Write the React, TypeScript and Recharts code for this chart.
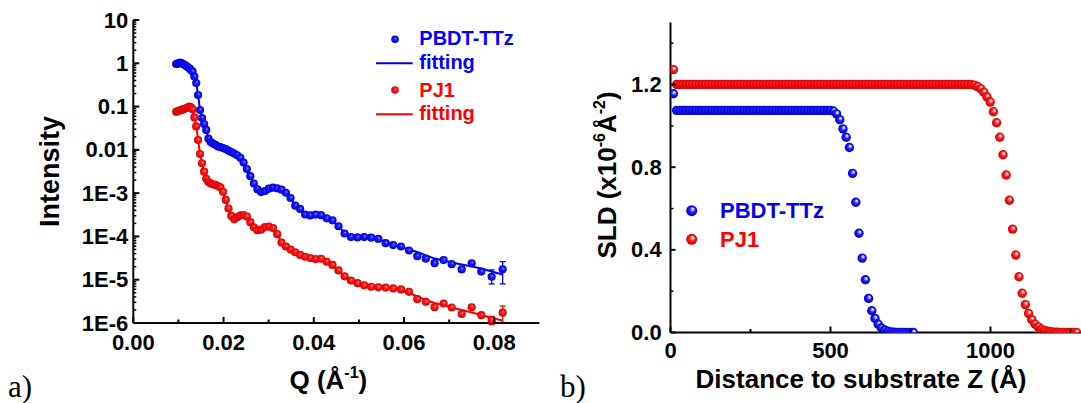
import React from 'react';
import { ComposedChart, ScatterChart, Scatter, Line, XAxis, YAxis, ErrorBar, Legend } from 'recharts';

const FONT = '"Liberation Sans", Arial, Helvetica, sans-serif';
const SERIF = '"Liberation Serif", "Times New Roman", serif';
const BLUE = '#0000ff';
const RED = '#ff0000';

// ---------------- Panel a: reflectivity ----------------
const qValues = [
  0.0095, 0.00979, 0.01008, 0.01038, 0.01069, 0.01101, 0.01134, 0.01168, 0.01203, 0.01239,
  0.01276, 0.01314, 0.01353, 0.01394, 0.01436, 0.01479, 0.01523, 0.01569, 0.01616, 0.01665,
  0.01715, 0.01766, 0.01819, 0.01874, 0.0193, 0.01988, 0.02048, 0.02109, 0.02172, 0.02237,
  0.02304, 0.02373, 0.02444, 0.02517, 0.02593, 0.02671, 0.02751, 0.02834, 0.02919, 0.03006,
  0.03096, 0.03189, 0.03285, 0.03383, 0.03485, 0.03589, 0.03697, 0.03808, 0.03922, 0.0404,
  0.04161, 0.04286, 0.04414, 0.04547, 0.04683, 0.04824, 0.04968, 0.05117, 0.05271, 0.05429,
  0.05592, 0.0576, 0.05932, 0.0611, 0.06294, 0.06483, 0.06677, 0.06877, 0.07056, 0.07278,
  0.07499, 0.07712, 0.07942, 0.08186,
];

const pbdtIntensity = [
  0.963, 0.978, 1.0, 1.032, 1.005, 0.963, 0.923, 0.875, 0.821, 0.77,
  0.704, 0.643, 0.495, 0.35, 0.185, 0.0834, 0.0545, 0.0396, 0.0288, 0.0181,
  0.0152, 0.014, 0.0131, 0.012, 0.0116, 0.011, 0.0104, 0.00957, 0.00888, 0.0082,
  0.0075, 0.00653, 0.00508, 0.0036, 0.00247, 0.00167, 0.00123, 0.00106, 0.00112, 0.00127,
  0.00134, 0.00129, 0.0012, 0.00102, 0.000773, 0.000513, 0.000431, 0.000321, 0.000306, 0.00032,
  0.00031, 0.000262, 0.000236, 0.000172, 0.000117, 0.0000966, 0.0000946, 0.0000966, 0.0000935, 0.0000877,
  0.0000698, 0.0000631, 0.0000586, 0.0000473, 0.000035, 0.0000306, 0.0000241, 0.0000284, 0.0000229, 0.0000173,
  0.000024, 0.0000154, 0.0000117, 0.0000174,
];

const pbdtFit = [
  0.963, 0.978, 1.0, 1.02, 1.0, 0.965, 0.923, 0.875, 0.821, 0.77,
  0.704, 0.643, 0.495, 0.35, 0.185, 0.0834, 0.0545, 0.0396, 0.0288, 0.0185,
  0.0155, 0.0138, 0.0128, 0.0119, 0.0114, 0.0109, 0.0103, 0.00957, 0.00888, 0.0082,
  0.0075, 0.00653, 0.00508, 0.0036, 0.00247, 0.00167, 0.00125, 0.00108, 0.00112, 0.00125,
  0.00132, 0.00129, 0.0012, 0.00102, 0.000773, 0.000525, 0.000431, 0.000335, 0.000312, 0.000312,
  0.000303, 0.000265, 0.000232, 0.000172, 0.000122, 0.0000985, 0.0000955, 0.000095, 0.000092, 0.000086,
  0.0000764, 0.0000652, 0.000057, 0.00005, 0.0000438, 0.0000363, 0.000031, 0.0000278, 0.000025, 0.0000225,
  0.0000202, 0.0000182, 0.0000155, 0.0000132,
];

const pj1Intensity = [
  0.0757, 0.0778, 0.0799, 0.082, 0.0838, 0.0861, 0.0889, 0.0913, 0.0953, 0.0994,
  0.0957, 0.0866, 0.056, 0.0348, 0.0169, 0.00803, 0.0049, 0.00313, 0.00215, 0.00181,
  0.00166, 0.0016, 0.00155, 0.00146, 0.00136, 0.00107, 0.000698, 0.000442, 0.000297, 0.000248,
  0.000279, 0.000305, 0.000313, 0.000287, 0.000213, 0.000163, 0.000139, 0.000143, 0.000165, 0.000169,
  0.000156, 0.000113, 0.0000724, 0.0000586, 0.0000497, 0.0000431, 0.0000373, 0.0000339, 0.0000316, 0.00003,
  0.0000305, 0.000026, 0.000022, 0.0000164, 0.000012, 0.00000959, 0.00000831, 0.00000743, 0.00000687, 0.00000668,
  0.00000658, 0.00000628, 0.00000595, 0.00000526, 0.00000355, 0.00000308, 0.00000232, 0.00000282, 0.00000228, 0.00000162,
  0.00000231, 0.00000152, 0.00000117, 0.00000173,
];

const pj1Fit = [
  0.0757, 0.0778, 0.0799, 0.082, 0.0838, 0.0861, 0.0889, 0.0913, 0.0953, 0.0985,
  0.0957, 0.0866, 0.056, 0.0348, 0.0169, 0.00803, 0.0049, 0.00313, 0.00218, 0.00183,
  0.00167, 0.0016, 0.00154, 0.00146, 0.00135, 0.00107, 0.000698, 0.000442, 0.000297, 0.000255,
  0.000275, 0.000302, 0.00031, 0.000285, 0.000215, 0.000163, 0.000141, 0.000145, 0.000163, 0.000166,
  0.000153, 0.000113, 0.0000735, 0.0000586, 0.0000497, 0.0000431, 0.0000373, 0.0000339, 0.0000316, 0.0000302,
  0.0000298, 0.0000262, 0.000022, 0.0000164, 0.0000122, 0.0000097, 0.0000083, 0.0000075, 0.0000069, 0.0000067,
  0.00000662, 0.00000611, 0.00000564, 0.00000494, 0.0000041, 0.0000034, 0.0000029, 0.00000261, 0.00000229, 0.000002,
  0.00000175, 0.00000153, 0.00000131, 0.00000114,
];

const errorQ = [0.07942, 0.08186];
const pbdtErrors = [[3.7e-6, 5.1e-6], [9.4e-6, 8.7e-6]];
const pj1Errors = [[2.5e-7, 2.5e-7], [7.4e-7, 7.4e-7]];

const qMajorTicks = [0, 0.02, 0.04, 0.06, 0.08];
const qTickLabels = ['0.00', '0.02', '0.04', '0.06', '0.08'];
const qMinorTicks = [0.01, 0.03, 0.05, 0.07];
const qTopTicks = [0.01, 0.02, 0.03, 0.04, 0.05, 0.06, 0.07, 0.08];

const intensityMajorTicks = [1e-6, 1e-5, 1e-4, 1e-3, 0.01, 0.1, 1, 10];
const intensityTickLabels = ['1E-6', '1E-5', '1E-4', '1E-3', '0.01', '0.1', '1', '10'];
const intensityMinorTicks = [
  2e-6, 3e-6, 4e-6, 5e-6, 6e-6, 7e-6, 8e-6, 9e-6,
  2e-5, 3e-5, 4e-5, 5e-5, 6e-5, 7e-5, 8e-5, 9e-5,
  2e-4, 3e-4, 4e-4, 5e-4, 6e-4, 7e-4, 8e-4, 9e-4,
  0.002, 0.003, 0.004, 0.005, 0.006, 0.007, 0.008, 0.009,
  0.02, 0.03, 0.04, 0.05, 0.06, 0.07, 0.08, 0.09,
  0.2, 0.3, 0.4, 0.5, 0.6, 0.7, 0.8, 0.9,
  2, 3, 4, 5, 6, 7, 8, 9,
];

const legendLabelsA = ['PBDT-TTz', 'fitting', 'PJ1', 'fitting'];

// ---------------- Panel b: SLD profiles ----------------
const zBlue = [
  9, 19, 29, 39, 49, 59, 69, 79, 89, 99,
  109, 119, 129, 139, 149, 159, 169, 179, 189, 199,
  209, 219, 229, 239, 249, 259, 269, 279, 289, 299,
  309, 319, 329, 339, 349, 359, 369, 379, 389, 399,
  409, 419, 429, 439, 449, 459, 469, 479, 489, 499,
  509, 519, 529, 539, 549, 559, 569, 579, 589, 599,
  609, 619, 629, 639, 649, 659, 669, 679, 689, 699,
  709, 719, 729, 739, 749, 759,
];
const sldBlue = [
  1.155, 1.075, 1.075, 1.075, 1.075, 1.075, 1.075, 1.075, 1.075, 1.075,
  1.075, 1.075, 1.075, 1.075, 1.075, 1.075, 1.075, 1.075, 1.075, 1.075,
  1.075, 1.075, 1.075, 1.075, 1.075, 1.075, 1.075, 1.075, 1.075, 1.075,
  1.075, 1.075, 1.075, 1.075, 1.075, 1.075, 1.075, 1.075, 1.075, 1.075,
  1.075, 1.075, 1.075, 1.075, 1.075, 1.075, 1.075, 1.075, 1.075, 1.075,
  1.072, 1.058, 1.03, 0.985, 0.945, 0.895, 0.77, 0.63, 0.48, 0.36,
  0.255, 0.165, 0.105, 0.068, 0.04, 0.022, 0.012, 0.006, 0.003, 0.001,
  0, 0, 0, 0, 0, 0,
];

const zRed = [
  9, 19, 29, 39, 49, 59, 69, 79, 89, 99,
  109, 119, 129, 139, 149, 159, 169, 179, 189, 199,
  209, 219, 229, 239, 249, 259, 269, 279, 289, 299,
  309, 319, 329, 339, 349, 359, 369, 379, 389, 399,
  409, 419, 429, 439, 449, 459, 469, 479, 489, 499,
  509, 519, 529, 539, 549, 559, 569, 579, 589, 599,
  609, 619, 629, 639, 649, 659, 669, 679, 689, 699,
  709, 719, 729, 739, 749, 759, 769, 779, 789, 799,
  809, 819, 829, 839, 849, 859, 869, 879, 889, 899,
  909, 919, 929, 939, 949, 959, 969, 979, 989, 999,
  1009, 1019, 1029, 1039, 1049, 1059, 1069, 1079, 1089, 1099,
  1109, 1119, 1129, 1139, 1149, 1159, 1169, 1179, 1189, 1199,
  1209, 1219, 1229, 1239, 1249, 1259, 1269,
];
const sldRed = [
  1.272, 1.2, 1.2, 1.2, 1.2, 1.2, 1.2, 1.2, 1.2, 1.2,
  1.2, 1.2, 1.2, 1.2, 1.2, 1.2, 1.2, 1.2, 1.2, 1.2,
  1.2, 1.2, 1.2, 1.2, 1.2, 1.2, 1.2, 1.2, 1.2, 1.2,
  1.2, 1.2, 1.2, 1.2, 1.2, 1.2, 1.2, 1.2, 1.2, 1.2,
  1.2, 1.2, 1.2, 1.2, 1.2, 1.2, 1.2, 1.2, 1.2, 1.2,
  1.2, 1.2, 1.2, 1.2, 1.2, 1.2, 1.2, 1.2, 1.2, 1.2,
  1.2, 1.2, 1.2, 1.2, 1.2, 1.2, 1.2, 1.2, 1.2, 1.2,
  1.2, 1.2, 1.2, 1.2, 1.2, 1.2, 1.2, 1.2, 1.2, 1.2,
  1.2, 1.2, 1.2, 1.2, 1.2, 1.2, 1.2, 1.2, 1.2, 1.2,
  1.2, 1.2, 1.2, 1.2, 1.197, 1.19, 1.18, 1.163, 1.14, 1.115,
  1.068, 1.015, 0.945, 0.86, 0.762, 0.64, 0.5, 0.375, 0.27, 0.19,
  0.135, 0.092, 0.062, 0.04, 0.027, 0.016, 0.01, 0.006, 0.004, 0.002,
  0.001, 0, 0, 0, 0, 0, 0,
];

const zMajorTicks = [0, 500, 1000];
const zTickLabels = ['0', '500', '1000'];
const zMinorTicks = [250, 750, 1250];
const zTopTicks = [250, 500, 750, 1000, 1250];
const sldMajorTicks = [0, 0.4, 0.8, 1.2];
const sldTickLabels = ['0.0', '0.4', '0.8', '1.2'];
const sldMinorTicks = [0.2, 0.6, 1.0, 1.4];
const legendLabelsB = ['PBDT-TTz', 'PJ1'];

// ---------------- helpers ----------------
const errorAt = (q: number, errs: number[][]) => {
  const j = errorQ.indexOf(q);
  return j >= 0 ? errs[j] : undefined;
};

const pbdtData = qValues.map((q, k) => ({ q, intensity: pbdtIntensity[k], err: errorAt(q, pbdtErrors) }));
const pj1Data = qValues.map((q, k) => ({ q, intensity: pj1Intensity[k], err: errorAt(q, pj1Errors) }));
const pbdtFitData = qValues.map((q, k) => ({ q, intensity: pbdtFit[k] }));
const pj1FitData = qValues.map((q, k) => ({ q, intensity: pj1Fit[k] }));

const blueSld = zBlue.map((z, k) => ({ z, sld: sldBlue[k] }));
const redSld = zRed.map((z, k) => ({ z, sld: sldRed[k] }));

const findMajor = (list: number[], v: number) =>
  list.findIndex((m) => Math.abs(m - v) <= 1e-12 + Math.abs(m) * 1e-6);

const sortNum = (a: number[]) => [...a].sort((x, y) => x - y);

const bottomTick = (majors: number[], labels: string[], majorLen: number, minorLen: number, labelDy: number) => (props: any) => {
  const { x, y, payload } = props;
  const k = findMajor(majors, payload.value);
  const len = k >= 0 ? majorLen : minorLen;
  return (
    <g>
      <line x1={x} x2={x} y1={y} y2={y - len} stroke="#000" strokeWidth={2} />
      {k >= 0 && (
        <text x={x} y={y + labelDy} textAnchor="middle" fontFamily={FONT} fontWeight="bold" fontSize={22} fill="#000">
          {labels[k]}
        </text>
      )}
    </g>
  );
};

const leftTick = (majors: number[], labels: string[], majorLen: number, minorLen: number, gap: number) => (props: any) => {
  const { x, y, payload } = props;
  const k = findMajor(majors, payload.value);
  const len = k >= 0 ? majorLen : minorLen;
  return (
    <g>
      <line x1={x} x2={x + len} y1={y} y2={y} stroke="#000" strokeWidth={k >= 0 ? 2 : 1.5} />
      {k >= 0 && (
        <text x={x - gap} y={y + 7.6} textAnchor="end" fontFamily={FONT} fontWeight="bold" fontSize={22} fill="#000">
          {labels[k]}
        </text>
      )}
    </g>
  );
};

const topTick = (len: number) => (props: any) => {
  const { x, y } = props;
  return <line x1={x} x2={x} y1={y} y2={y + len} stroke="#000" strokeWidth={2} />;
};

const sphere = (grad: string, r: number) => (props: any) => {
  if (props.cx == null || props.cy == null) return <g />;
  return <circle cx={props.cx} cy={props.cy} r={r} fill={`url(#${grad})`} />;
};

const axisLine = { stroke: '#000', strokeWidth: 2 };

// ---------------- titles ----------------
const QTitle = (p: any) => {
  const vb = p.viewBox;
  return (
    <text x={vb.x + vb.width / 2 - 8} y={vb.y + 66} textAnchor="middle" fontFamily={FONT} fontWeight="bold" fontSize={26} fill="#000">
      Q (Å<tspan dy={-11} fontSize={16}>-1</tspan>
      <tspan dy={11}>)</tspan>
    </text>
  );
};

const IntensityTitle = (p: any) => {
  const vb = p.viewBox;
  const cx = vb.x + 15.2;
  const cy = vb.y + vb.height / 2;
  return (
    <text transform={`translate(${cx},${cy}) rotate(-90)`} textAnchor="middle" fontFamily={FONT} fontWeight="bold" fontSize={27} fill="#000">
      Intensity
    </text>
  );
};

const ZTitle = (p: any) => {
  const vb = p.viewBox;
  return (
    <text x={vb.x + vb.width / 2 - 17.5} y={vb.y + 55.5} textAnchor="middle" fontFamily={FONT} fontWeight="bold" fontSize={26} fill="#000">
      Distance to substrate Z (Å)
    </text>
  );
};

const SldTitle = (p: any) => {
  const vb = p.viewBox;
  const cx = vb.x + 15.5;
  const cy = vb.y + vb.height / 2 - 2.5;
  return (
    <text transform={`translate(${cx},${cy}) rotate(-90)`} textAnchor="middle" fontFamily={FONT} fontWeight="bold" fontSize={26} fill="#000">
      SLD (x10<tspan dy={-11} fontSize={16}>-6</tspan>
      <tspan dy={11}>Å</tspan>
      <tspan dy={-11} fontSize={16}>-2</tspan>
      <tspan dy={11}>)</tspan>
    </text>
  );
};

// ---------------- legends ----------------
const LegendA = () => (
  <svg width={560} height={403} style={{ display: 'block', overflow: 'visible' }}>
    <circle cx={395} cy={39.3} r={3.8} fill="url(#sphBlueA)" />
    <text x={419.3} y={45} fontFamily={FONT} fontWeight="bold" fontSize={20} fill={BLUE}>{legendLabelsA[0]}</text>
    <line x1={376} x2={412.7} y1={63.3} y2={63.3} stroke={BLUE} strokeWidth={2} />
    <text x={419.3} y={69} fontFamily={FONT} fontWeight="bold" fontSize={20} fill={BLUE}>{legendLabelsA[1]}</text>
    <circle cx={395} cy={90} r={3.8} fill="url(#sphRedA)" />
    <text x={419.3} y={96.5} fontFamily={FONT} fontWeight="bold" fontSize={20} fill={RED}>{legendLabelsA[2]}</text>
    <line x1={376} x2={412.7} y1={114.3} y2={114.3} stroke={RED} strokeWidth={2} />
    <text x={419.3} y={120} fontFamily={FONT} fontWeight="bold" fontSize={20} fill={RED}>{legendLabelsA[3]}</text>
  </svg>
);

const LegendB = () => (
  <svg width={540} height={403} style={{ display: 'block', overflow: 'visible' }}>
    <circle cx={131.7} cy={210.7} r={5.5} fill="url(#sphBlueB)" />
    <text x={160} y={218.3} fontFamily={FONT} fontWeight="bold" fontSize={22} fill={BLUE}>{legendLabelsB[0]}</text>
    <circle cx={131.7} cy={239.3} r={5.5} fill="url(#sphRedB)" />
    <text x={160} y={246.7} fontFamily={FONT} fontWeight="bold" fontSize={22} fill={RED}>{legendLabelsB[1]}</text>
  </svg>
);

const Gradients = () => (
  <svg width={0} height={0} style={{ position: 'absolute', left: 0, top: 0 }}>
    <defs>
      <radialGradient id="sphBlueA" cx="0.5" cy="0.5" r="0.5" fx="0.6" fy="0.38">
        <stop offset="0" stopColor="#9c9cff" />
        <stop offset="0.35" stopColor="#1e1eff" />
        <stop offset="1" stopColor="#0000d4" />
      </radialGradient>
      <radialGradient id="sphRedA" cx="0.5" cy="0.5" r="0.5" fx="0.6" fy="0.38">
        <stop offset="0" stopColor="#ff9c9c" />
        <stop offset="0.35" stopColor="#ff1e1e" />
        <stop offset="1" stopColor="#d40000" />
      </radialGradient>
      <radialGradient id="sphBlueB" cx="0.5" cy="0.5" r="0.5" fx="0.62" fy="0.32">
        <stop offset="0" stopColor="#ffffff" />
        <stop offset="0.2" stopColor="#c0c0ff" />
        <stop offset="0.5" stopColor="#1c1cff" />
        <stop offset="1" stopColor="#0000c8" />
      </radialGradient>
      <radialGradient id="sphRedB" cx="0.5" cy="0.5" r="0.5" fx="0.62" fy="0.32">
        <stop offset="0" stopColor="#ffffff" />
        <stop offset="0.2" stopColor="#ffc0c0" />
        <stop offset="0.5" stopColor="#ff1c1c" />
        <stop offset="1" stopColor="#d00000" />
      </radialGradient>
    </defs>
  </svg>
);

export default function App() {
  return (
    <div style={{ position: 'fixed', left: 0, top: 0, width: 1081, height: 403, overflow: 'hidden', background: '#fff' }}>
      <Gradients />
      <div style={{ position: 'absolute', left: 0, top: 0 }}>
        <ComposedChart width={560} height={403} margin={{ top: 20, right: 20.6, bottom: 20, left: 43.3 }}>
          <XAxis
            dataKey="q"
            type="number"
            domain={[0, 0.09]}
            allowDataOverflow
            ticks={sortNum([...qMajorTicks, ...qMinorTicks])}
            interval={0}
            tickLine={false}
            tickSize={0}
            tickMargin={0}
            tick={bottomTick(qMajorTicks, qTickLabels, 6, 3.5, 26.5)}
            axisLine={axisLine}
            height={60}
            label={QTitle}
          />
          <XAxis
            xAxisId="top"
            orientation="top"
            dataKey="q"
            type="number"
            domain={[0, 0.09]}
            allowDataOverflow
            ticks={qTopTicks}
            interval={0}
            tickLine={false}
            tickSize={0}
            tickMargin={0}
            tick={topTick(3.5)}
            axisLine={axisLine}
            height={0}
          />
          <YAxis
            type="number"
            scale="log"
            domain={[1e-6, 10]}
            allowDataOverflow
            ticks={sortNum([...intensityMajorTicks, ...intensityMinorTicks])}
            interval={0}
            tickLine={false}
            tickSize={0}
            tickMargin={0}
            tick={leftTick(intensityMajorTicks, intensityTickLabels, 6, 3, 5)}
            axisLine={axisLine}
            width={90}
            label={IntensityTitle}
          />
          <YAxis
            yAxisId="right"
            orientation="right"
            type="number"
            scale="log"
            domain={[1e-6, 10]}
            allowDataOverflow
            tick={false}
            tickLine={false}
            axisLine={axisLine}
            width={0}
          />
          <Line data={pbdtFitData} dataKey="intensity" stroke={BLUE} strokeWidth={2} dot={false} activeDot={false} isAnimationActive={false} />
          <Line data={pj1FitData} dataKey="intensity" stroke={RED} strokeWidth={2} dot={false} activeDot={false} isAnimationActive={false} />
          <Scatter data={pbdtData} dataKey="intensity" shape={sphere('sphBlueA', 4.1)} isAnimationActive={false}>
            <ErrorBar dataKey="err" direction="y" width={3} stroke={BLUE} strokeWidth={1.3} />
          </Scatter>
          <Scatter data={pj1Data} dataKey="intensity" shape={sphere('sphRedA', 4.1)} isAnimationActive={false}>
            <ErrorBar dataKey="err" direction="y" width={3} stroke={RED} strokeWidth={1.3} />
          </Scatter>
          <Legend
            layout="vertical"
            align="center"
            verticalAlign="middle"
            content={() => <LegendA />}
            wrapperStyle={{ position: 'absolute', left: 0, top: 0, width: 560, height: 403, pointerEvents: 'none' }}
          />
        </ComposedChart>
      </div>
      <div style={{ position: 'absolute', left: 560, top: 0 }}>
        <ScatterChart width={540} height={403} margin={{ top: 22.5, right: 13.5, bottom: 10.5, left: 40.5 }}>
          <XAxis
            dataKey="z"
            type="number"
            domain={[0, 1300]}
            allowDataOverflow
            ticks={sortNum([...zMajorTicks, ...zMinorTicks])}
            interval={0}
            tickLine={false}
            tickSize={0}
            tickMargin={0}
            tick={bottomTick(zMajorTicks, zTickLabels, 6, 3.5, 25.5)}
            axisLine={axisLine}
            height={60}
            label={ZTitle}
          />
          <XAxis
            xAxisId="top"
            orientation="top"
            dataKey="z"
            type="number"
            domain={[0, 1300]}
            allowDataOverflow
            ticks={zTopTicks}
            interval={0}
            tickLine={false}
            tickSize={0}
            tickMargin={0}
            tick={topTick(3.5)}
            axisLine={axisLine}
            height={0}
          />
          <YAxis
            dataKey="sld"
            type="number"
            domain={[0, 1.5]}
            allowDataOverflow
            ticks={sortNum([...sldMajorTicks, ...sldMinorTicks])}
            interval={0}
            tickLine={false}
            tickSize={0}
            tickMargin={0}
            tick={leftTick(sldMajorTicks, sldTickLabels, 5, 3, 8.8)}
            axisLine={axisLine}
            width={70}
            label={SldTitle}
          />
          <Scatter data={blueSld} dataKey="sld" shape={sphere('sphBlueB', 4.7)} isAnimationActive={false} />
          <Scatter data={redSld} dataKey="sld" shape={sphere('sphRedB', 4.7)} isAnimationActive={false} />
          <Legend
            layout="vertical"
            align="center"
            verticalAlign="middle"
            content={() => <LegendB />}
            wrapperStyle={{ position: 'absolute', left: 0, top: 0, width: 540, height: 403, pointerEvents: 'none' }}
          />
        </ScatterChart>
      </div>
      <svg width={1081} height={403} style={{ position: 'absolute', left: 0, top: 0, pointerEvents: 'none' }}>
        <text x={8} y={397} fontFamily={SERIF} fontSize={31} fill="#000">a)</text>
        <text x={560} y={397} fontFamily={SERIF} fontSize={31} fill="#000">b)</text>
      </svg>
    </div>
  );
}
